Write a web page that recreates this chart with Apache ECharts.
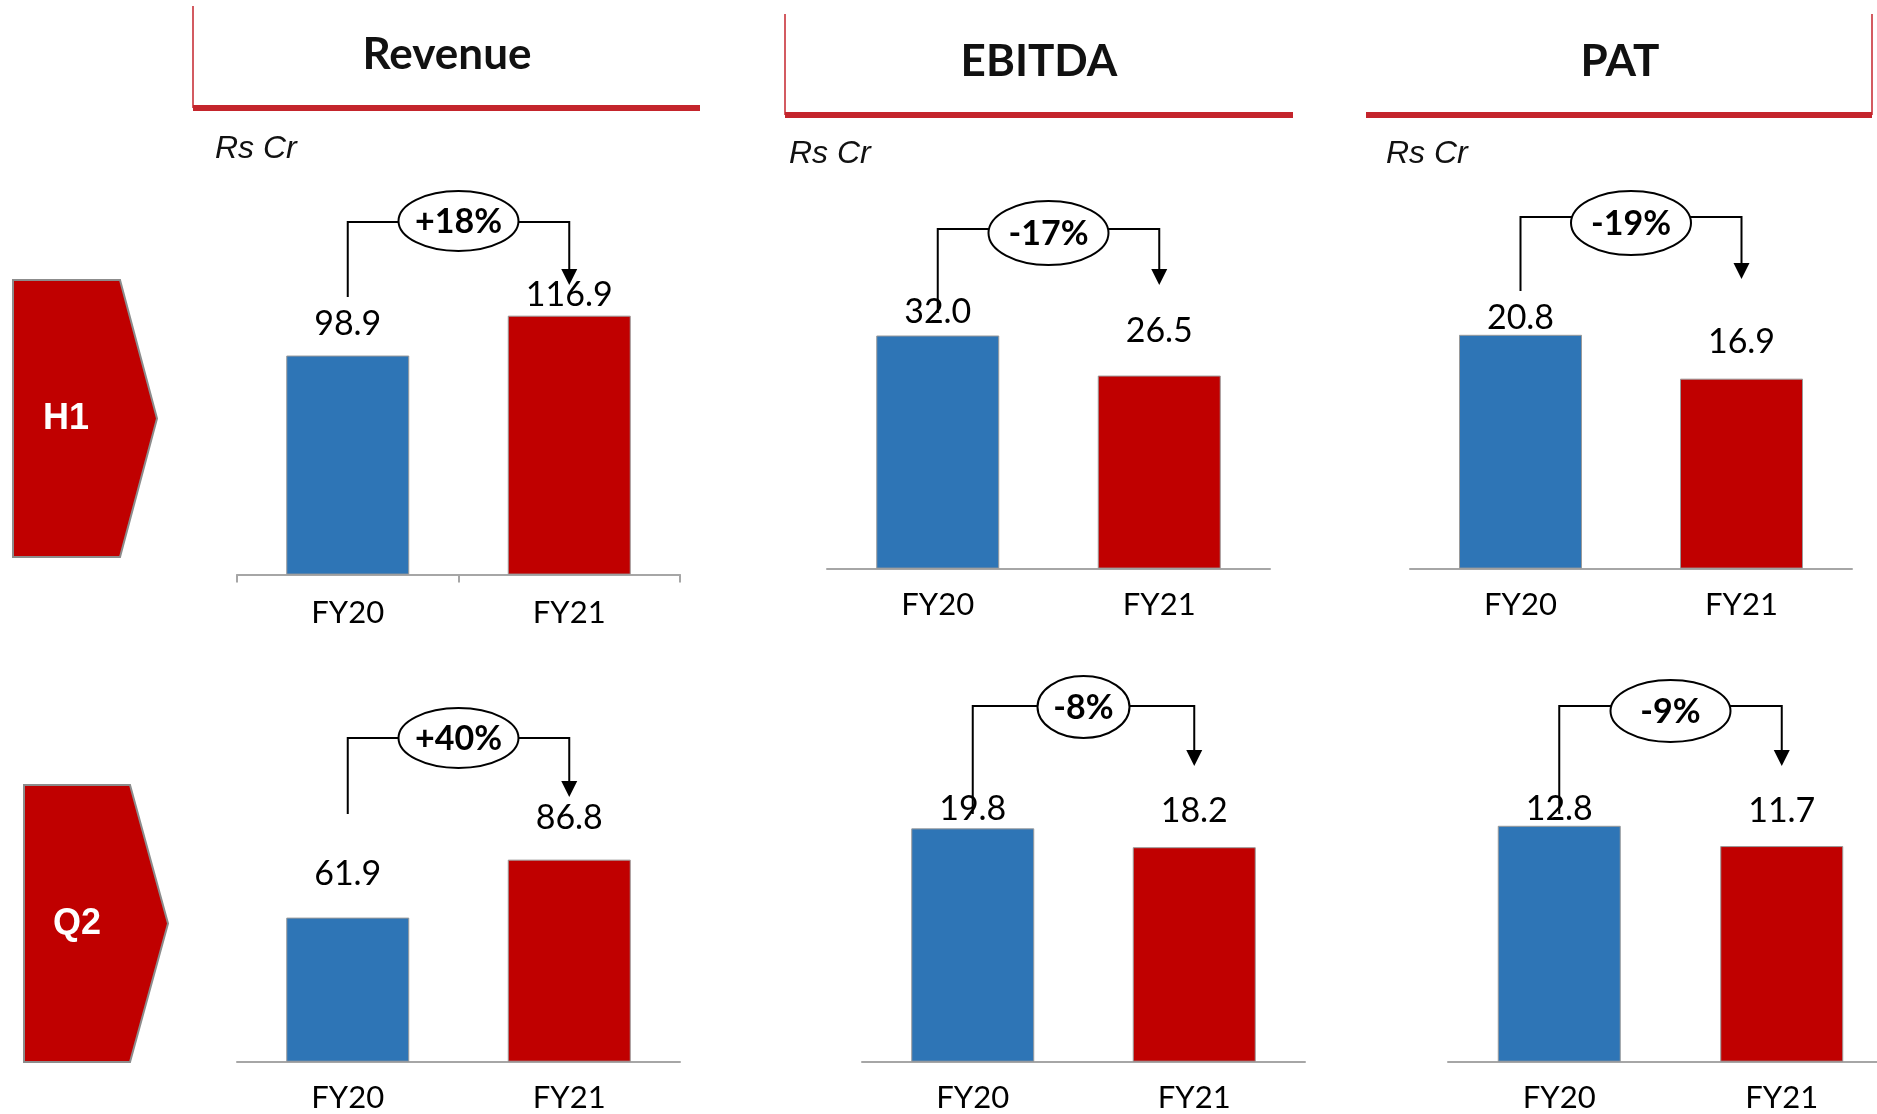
<!DOCTYPE html>
<html>
<head>
<meta charset="utf-8">
<script src="https://cdn.jsdelivr.net/npm/echarts@6/dist/echarts.min.js"></script>
<style>
  html, body { margin: 0; padding: 0; background: #ffffff; overflow: hidden; }
  #chart { width: 1920px; height: 1114px; }
</style>
</head>
<body>
<div id="chart"></div>
<script>
// ---------- data ----------
const categories = ['FY20', 'FY21'];
const revenueH1 = [98.9, 116.9];
const revenueQ2 = [61.9, 86.8];
const ebitdaH1 = [32.0, 26.5];
const ebitdaQ2 = [19.8, 18.2];
const patH1 = [20.8, 16.9];
const patQ2 = [12.8, 11.7];
const metricTitles = ['Revenue', 'EBITDA', 'PAT'];
const periodLabels = ['H1', 'Q2'];
const unitLabel = 'Rs Cr';

// ---------- layout / style ----------
const barColors = ['#2E75B6', '#C00000'];
const headerRed = '#C4252C';
const axisGray = '#A6A6A6';

const panels = [
  { values: revenueH1, left: 237, width: 443, baseline: 574.6, max: 140, scale: 2.215, ticks: true, margin: 23, labelGap: [15, 4],
    br: { startY: 297, lineY: 222, tipY: 285, ecy: 221, rx: 60, ry: 30 } },
  { values: revenueQ2, left: 237, width: 443, baseline: 1061.7, max: 100, scale: 2.328, ticks: false, margin: 21, labelGap: [27, 25],
    br: { startY: 814, lineY: 738, tipY: 797, ecy: 738, rx: 60, ry: 30 } },
  { values: ebitdaH1, left: 827, width: 443, baseline: 568.6, max: 40, scale: 7.284, ticks: false, margin: 21, labelGap: [6, 28],
    br: { startY: 313, lineY: 229, tipY: 285, ecy: 233, rx: 60, ry: 32 } },
  { values: ebitdaQ2, left: 862, width: 443, baseline: 1061.7, max: 25, scale: 11.785, ticks: false, margin: 21, labelGap: [2, 19],
    br: { startY: 814, lineY: 706, tipY: 766, ecy: 707, rx: 46, ry: 31 } },
  { values: patH1, left: 1410, width: 442, baseline: 568.6, max: 25, scale: 11.24, ticks: false, margin: 21, labelGap: [0, 20],
    br: { startY: 291, lineY: 217, tipY: 279, ecy: 223, rx: 60, ry: 32 } },
  { values: patQ2, left: 1448, width: 445, baseline: 1061.7, max: 15, scale: 18.43, ticks: false, margin: 21, labelGap: [0, 18],
    br: { startY: 814, lineY: 706, tipY: 766, ecy: 711, rx: 60, ry: 31 } }
];

const chart = echarts.init(document.getElementById('chart'), null, { renderer: 'canvas' });

const grids = [], xAxes = [], yAxes = [], series = [];
panels.forEach((p, i) => {
  const h = p.max * p.scale;
  grids.push({ left: p.left, width: p.width, top: p.baseline - h, height: h, containLabel: false });
  xAxes.push({
    type: 'category', gridIndex: i, data: categories,
    axisLine: { show: true, lineStyle: { color: axisGray, width: 2 } },
    axisTick: { show: p.ticks, length: 8, alignWithLabel: false, lineStyle: { color: axisGray, width: 2 } },
    axisLabel: { fontFamily: 'Lato', fontSize: 31, color: '#000', margin: p.margin }
  });
  yAxes.push({ type: 'value', gridIndex: i, min: 0, max: p.max, show: false, splitLine: { show: false } });
  series.push({
    type: 'bar', xAxisIndex: i, yAxisIndex: i, barWidth: 123,
    data: p.values.map((v, j) => ({
      value: v,
      itemStyle: { color: barColors[j], borderColor: '#9A9A9A', borderWidth: 1 },
      label: { distance: p.labelGap[j] }
    })),
    label: {
      show: true, position: 'top', fontFamily: 'Lato', fontSize: 34, color: '#000',
      formatter: (d) => d.value.toFixed(1)
    },
    silent: true, animation: false
  });
});

chart.setOption({
  backgroundColor: '#ffffff',
  animation: false,
  grid: grids, xAxis: xAxes, yAxis: yAxes, series: series
});

// ---------- decorations ----------
const g = [];
// headers
const headers = [
  { x1: 193, x2: 700, y: 108, vx: 193, vTop: 6, cx: 447, cy: 55, unitX: 215, unitY: 149 },
  { x1: 785, x2: 1293, y: 115, vx: 785, vTop: 14, cx: 1039, cy: 62, unitX: 789, unitY: 154 },
  { x1: 1366, x2: 1872, y: 115, vx: 1872, vTop: 14, cx: 1620, cy: 62, unitX: 1386, unitY: 154 }
];
headers.forEach((hd, i) => {
  g.push({ type: 'line', shape: { x1: hd.vx, y1: hd.vTop, x2: hd.vx, y2: hd.y }, style: { stroke: headerRed, lineWidth: 1.5 } });
  g.push({ type: 'rect', shape: { x: hd.x1, y: hd.y - 3, width: hd.x2 - hd.x1, height: 6 }, style: { fill: headerRed } });
  g.push({ type: 'text', x: hd.cx, y: hd.cy, style: { text: metricTitles[i], fill: '#111', font: 'bold 44px Lato', align: 'center', verticalAlign: 'middle' } });
  g.push({ type: 'text', x: hd.unitX, y: hd.unitY, style: { text: unitLabel, fill: '#111', font: 'italic 32px "Liberation Sans"', align: 'left', verticalAlign: 'middle' } });
});

// period tags
const tags = [
  { l: 13, r: 120, tip: 157, top: 280, bot: 557, tx: 66, ty: 419 },
  { l: 24, r: 130, tip: 168, top: 785, bot: 1062, tx: 77, ty: 924 }
];
tags.forEach((t, i) => {
  const mid = (t.top + t.bot) / 2;
  g.push({ type: 'polygon', shape: { points: [[t.l, t.top], [t.r, t.top], [t.tip, mid], [t.r, t.bot], [t.l, t.bot]] },
           style: { fill: '#C00000', stroke: '#8C8C8C', lineWidth: 2 } });
  g.push({ type: 'text', x: t.tx, y: t.ty, style: { text: periodLabels[i], fill: '#fff', font: 'bold 36px "Liberation Sans"', align: 'center', verticalAlign: 'middle' } });
});

// growth brackets, x anchored on the category axes
panels.forEach((p, i) => {
  const x0 = chart.convertToPixel({ xAxisIndex: i, yAxisIndex: i }, [categories[0], 0])[0];
  const x1 = chart.convertToPixel({ xAxisIndex: i, yAxisIndex: i }, [categories[1], 0])[0];
  const b = p.br;
  const headH = 16, headW = 16;
  const growth = (p.values[1] / p.values[0] - 1) * 100;
  const txt = (growth >= 0 ? '+' : '-') + Math.round(Math.abs(growth)) + '%';
  const ex = (x0 + x1) / 2;
  g.push({ type: 'polyline', z: 10, shape: { points: [[x0, b.startY], [x0, b.lineY], [x1, b.lineY], [x1, b.tipY - headH + 1]] },
           style: { stroke: '#000', lineWidth: 2, fill: null } });
  g.push({ type: 'polygon', z: 10, shape: { points: [[x1 - headW / 2, b.tipY - headH], [x1 + headW / 2, b.tipY - headH], [x1, b.tipY]] },
           style: { fill: '#000' } });
  g.push({ type: 'ellipse', z: 11, shape: { cx: ex, cy: b.ecy, rx: b.rx, ry: b.ry }, style: { fill: '#fff', stroke: '#000', lineWidth: 2 } });
  g.push({ type: 'text', z: 12, x: ex, y: b.ecy + 1, style: { text: txt, fill: '#000', font: 'bold 34px Lato', align: 'center', verticalAlign: 'middle' } });
});

chart.setOption({ graphic: g });
</script>
</body>
</html>
